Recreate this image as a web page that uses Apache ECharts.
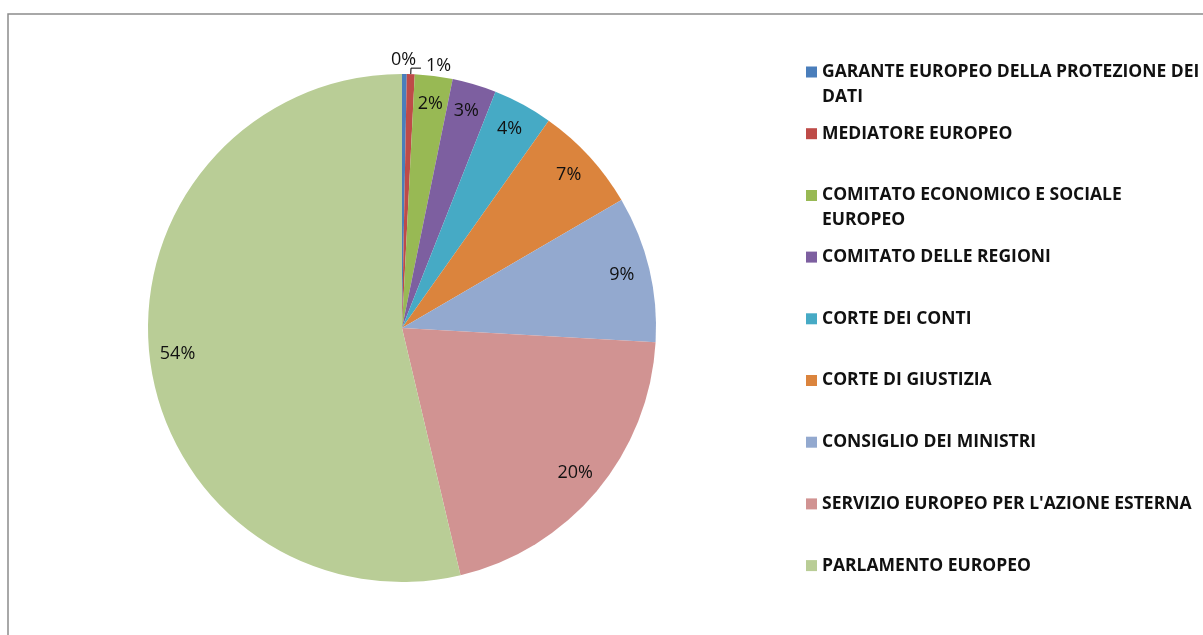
<!DOCTYPE html>
<html>
<head>
<meta charset="utf-8">
<script src="https://cdn.jsdelivr.net/npm/echarts@6/dist/echarts.min.js"></script>
<style>
  html, body { margin: 0; padding: 0; background: #fff; }
  #chart { width: 1203px; height: 635px; }
</style>
</head>
<body>
<div id="chart"></div>
<script>
// istituzioni (ordine delle fette, in senso orario dalle 12)
var names = [
    'GARANTE EUROPEO DELLA PROTEZIONE DEI DATI',
    'MEDIATORE EUROPEO',
    'COMITATO ECONOMICO E SOCIALE EUROPEO',
    'COMITATO DELLE REGIONI',
    'CORTE DEI CONTI',
    'CORTE DI GIUSTIZIA',
    'CONSIGLIO DEI MINISTRI',
    "SERVIZIO EUROPEO PER L'AZIONE ESTERNA",
    'PARLAMENTO EUROPEO'
];
// quote stimate (%)
var shares = [0.3, 0.5, 2.4, 2.8, 3.8, 6.8, 9.3, 20.4, 53.7];
// testo della legenda, con gli a capo come nell'originale
var legendLabels = [
    'GARANTE EUROPEO DELLA PROTEZIONE DEI\nDATI',
    'MEDIATORE EUROPEO',
    'COMITATO ECONOMICO E SOCIALE\nEUROPEO',
    'COMITATO DELLE REGIONI',
    'CORTE DEI CONTI',
    'CORTE DI GIUSTIZIA',
    'CONSIGLIO DEI MINISTRI',
    "SERVIZIO EUROPEO PER L'AZIONE ESTERNA",
    'PARLAMENTO EUROPEO'
];
var colors = ['#4A7EBB', '#BE4B48', '#98B954', '#7D5FA0', '#46AAC5',
              '#DB843D', '#93A9CF', '#D19392', '#B9CD96'];

var chart = echarts.init(document.getElementById('chart'));

var pieData = names.map(function (n, i) {
    return { name: n, value: shares[i] };
});

// anello trasparente solo per le etichette (vicino al bordo, come Excel)
var labelData = names.map(function (n, i) {
    var d = { name: n, value: shares[i] };
    if (i === 0) {
        d.label = { position: 'outside' };
        d.labelLine = { show: false, length: 12, length2: 0 };
    }
    if (i === 1) {
        d.label = { position: 'outside' };
        d.labelLine = { show: true, length: 6, length2: 10,
                        lineStyle: { color: '#000', width: 1 } };
    }
    return d;
});

var legends = names.map(function (n, i) {
    var twoLines = legendLabels[i].indexOf('\n') >= 0;
    return {
        data: [n],
        left: 806,
        top: 72 + i * 61.7 - 12.5,
        orient: 'vertical',
        padding: 0,
        itemWidth: 11,
        itemHeight: twoLines ? 36 : 11,
        icon: twoLines ? 'path://M0,0H11V11H0Z M0,35.99H0.01V36H0Z' : 'rect',
        selectedMode: false,
        formatter: function () { return legendLabels[i]; },
        textStyle: {
            fontFamily: 'Open Sans',
            fontWeight: 'bold',
            fontSize: 17.5,
            lineHeight: 25,
            color: '#111'
        }
    };
});

var option = {
    color: colors,
    animation: false,
    graphic: [{
        type: 'rect',
        shape: { x: 8, y: 14, width: 1400, height: 800 },
        style: { fill: 'none', stroke: '#8c8c8c', lineWidth: 1.5 },
        z: -1
    }],
    legend: legends,
    series: [
        {
            name: 'quote',
            type: 'pie',
            center: [402, 328],
            radius: [0, 254],
            startAngle: 90,
            clockwise: true,
            label: { show: false },
            labelLine: { show: false },
            itemStyle: { borderWidth: 0 },
            data: pieData
        },
        {
            name: 'etichette',
            type: 'pie',
            center: [402, 328],
            radius: [192, 254],
            startAngle: 90,
            clockwise: true,
            silent: true,
            avoidLabelOverlap: false,
            itemStyle: { color: 'rgba(0,0,0,0)', borderWidth: 0 },
            label: {
                show: true,
                position: 'inside',
                fontFamily: 'Open Sans',
                fontSize: 18,
                color: '#111',
                formatter: function (p) { return Math.round(p.percent) + '%'; }
            },
            labelLine: { show: false },
            labelLayout: function (p) {
                if (p.dataIndex === 0) {
                    return { hideOverlap: false, align: 'center', dx: -6, dy: -2 };
                }
                if (p.dataIndex === 1) {
                    return { hideOverlap: false, dy: -2 };
                }
                return { hideOverlap: false };
            },
            data: labelData
        }
    ]
};

chart.setOption(option);
</script>
</body>
</html>
